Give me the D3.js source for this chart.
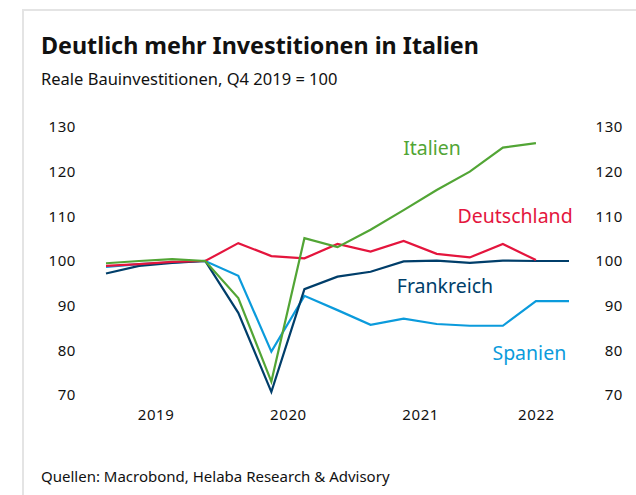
<!DOCTYPE html>
<html>
<head>
<meta charset="utf-8">
<script src="https://cdn.jsdelivr.net/npm/d3@7"></script>
<style>
  body { margin: 0; background: #fff; }
  svg { display: block; font-family: "Noto Sans", "Open Sans", sans-serif; }
</style>
</head>
<body>
<svg id="chart" width="636" height="495"></svg>
<script>
// quarters Q1 2019 .. Q3 2022
const quarters = ['Q1 2019','Q2 2019','Q3 2019','Q4 2019','Q1 2020','Q2 2020','Q3 2020','Q4 2020',
    'Q1 2021','Q2 2021','Q3 2021','Q4 2021','Q1 2022','Q2 2022','Q3 2022'];

const italien     = [99.5, 100.0, 100.4, 100.0, 91.7, 73.0, 105.1, 103.1, 107.0, 111.4, 115.9, 120.0, 125.4, 126.4];
const deutschland = [98.9, 99.3, 99.8, 100.0, 104.0, 101.1, 100.6, 103.8, 102.1, 104.5, 101.6, 100.8, 103.8, 100.2];
const frankreich  = [97.2, 98.9, 99.6, 100.0, 88.4, 70.7, 93.7, 96.5, 97.6, 99.9, 100.1, 99.6, 100.1, 100.0, 100.0];
const spanien     = [98.7, 99.3, 99.7, 100.0, 96.7, 79.7, 92.2, 89.0, 85.7, 87.1, 85.9, 85.5, 85.5, 91.0, 91.0];

const yTicks = [70, 80, 90, 100, 110, 120, 130];
const yearLabels = ['2019', '2020', '2021', '2022'];
const yearPos = [1.5, 5.5, 9.5, 13];   // quarter index where the year label sits

const series = [
    { name: 'Italien', values: italien, color: '#52a535', lx: 9.86, ly: 123.7 },
    { name: 'Deutschland', values: deutschland, color: '#e4153d', lx: 12.37, ly: 108.5 },
    { name: 'Frankreich', values: frankreich, color: '#003e6a', lx: 10.25, ly: 92.8 },
    { name: 'Spanien', values: spanien, color: '#0b9bdc', lx: 12.8, ly: 77.8 },
];

const svg = d3.select('#chart');

// frame
svg.append('rect').attr('width', 636).attr('height', 495).attr('fill', '#fff');
svg.append('line').attr('x1', 23).attr('x2', 636).attr('y1', 10).attr('y2', 10)
    .attr('stroke', '#e4e4e4').attr('stroke-width', 2);
svg.append('line').attr('x1', 23).attr('x2', 23).attr('y1', 9).attr('y2', 495)
    .attr('stroke', '#e4e4e4').attr('stroke-width', 2);

svg.append('text').attr('x', 41).attr('y', 54)
    .attr('font-size', 23.3).attr('font-weight', 'bold').attr('fill', '#111')
    .text('Deutlich mehr Investitionen in Italien');
svg.append('text').attr('x', 41).attr('y', 85)
    .attr('font-size', 16.5).attr('fill', '#111')
    .text('Reale Bauinvestitionen, Q4 2019 = 100');
svg.append('text').attr('x', 41).attr('y', 482)
    .attr('font-size', 15).attr('fill', '#111')
    .text('Quellen: Macrobond, Helaba Research & Advisory');

const x = d3.scaleLinear().domain([0, 14]).range([106, 569]);
const y = d3.scaleLinear().domain([70, 130]).range([395, 127]);

// y labels left and right
const leftAxis = d3.axisLeft(y).tickValues(yTicks).tickSize(0).tickPadding(0);
const rightAxis = d3.axisLeft(y).tickValues(yTicks).tickSize(0).tickPadding(0);
[[76, leftAxis], [623, rightAxis]].forEach(([pos, ax]) => {
    const g = svg.append('g').attr('transform', `translate(${pos},0)`).call(ax);
    g.select('.domain').remove();
    g.selectAll('text').attr('font-size', 15).attr('fill', '#111')
        .attr('letter-spacing', 0.6)
        .attr('font-family', '"Noto Sans", sans-serif');
});

// x labels
const xAxis = d3.axisBottom(x).tickValues(yearPos).tickSize(0).tickPadding(0)
    .tickFormat((d, i) => yearLabels[i]);
const gx = svg.append('g').attr('transform', 'translate(0,415)').call(xAxis);
gx.select('.domain').remove();
gx.selectAll('text').attr('font-size', 15).attr('fill', '#111')
    .attr('letter-spacing', 0.6)
    .attr('font-family', '"Noto Sans", sans-serif').attr('dy', '0.35em');

const line = d3.line().x((d, i) => x(i)).y(d => y(d));

// draw order: light blue, navy, red, green on top
const order = ['Spanien', 'Frankreich', 'Deutschland', 'Italien'];
order.forEach(n => {
    const s = series.find(d => d.name === n);
    svg.append('path').datum(s.values)
        .attr('d', line)
        .attr('fill', 'none')
        .attr('stroke', s.color)
        .attr('stroke-width', 2.2)
        .attr('stroke-linejoin', 'miter');
});

series.forEach(s => {
    svg.append('text')
        .attr('x', x(s.lx)).attr('y', y(s.ly))
        .attr('text-anchor', 'middle')
        .attr('font-size', 19.5)
        .attr('fill', s.color)
        .text(s.name);
});
</script>
</body>
</html>
